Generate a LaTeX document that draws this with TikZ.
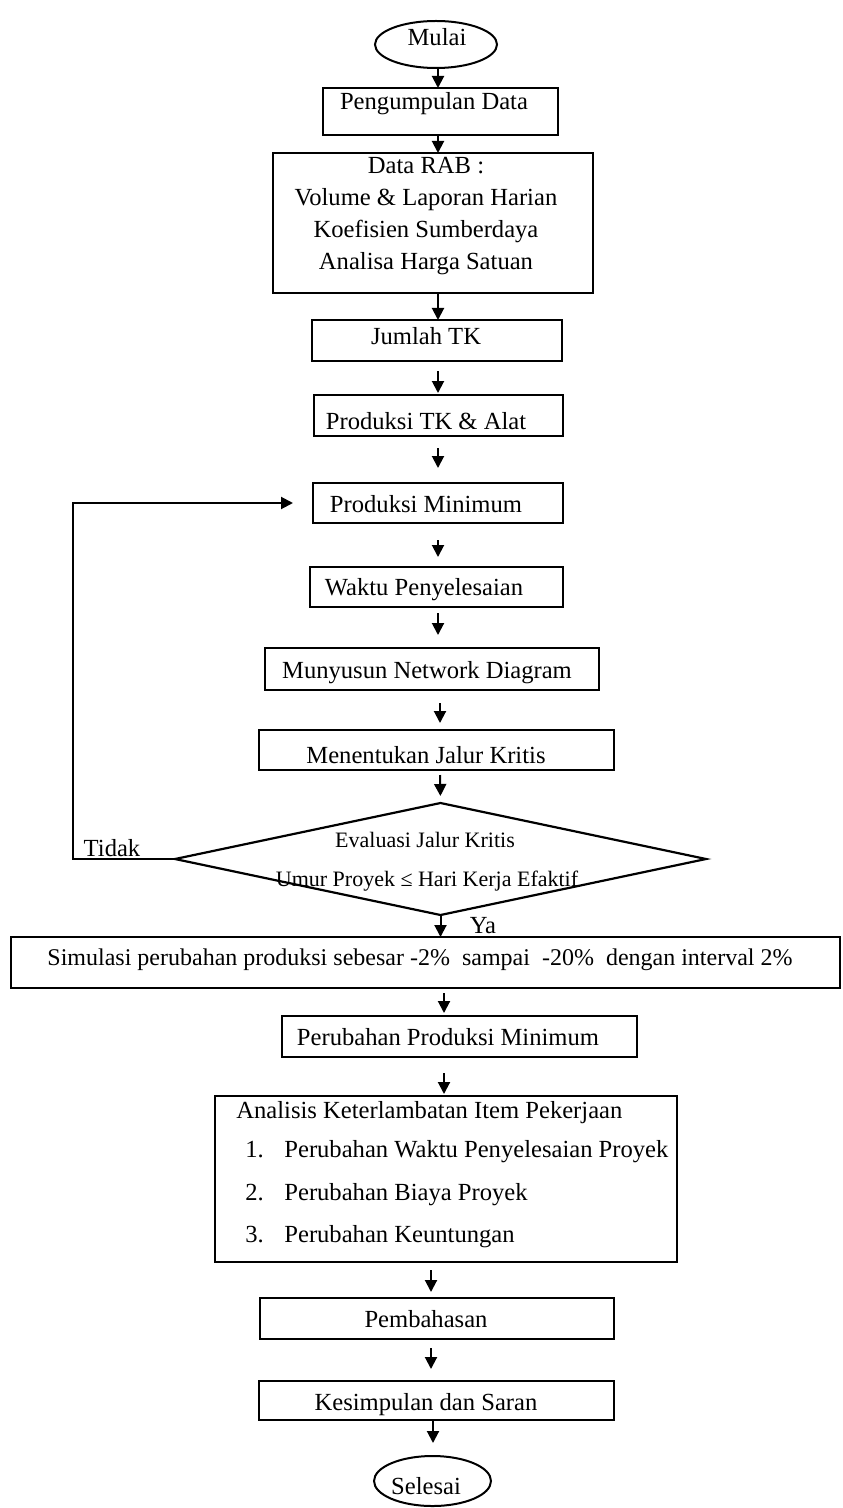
\documentclass[tikz,border=0pt]{standalone}
\usepackage{fontspec}
\setmainfont{Liberation Serif}
\usetikzlibrary{shapes.geometric,arrows.meta,calc}
\newcommand\mybox[5]{\node[box, minimum width={(#4-#2)*0.5pt}, minimum height={(#5-#3)*0.5pt}] (#1) at ({(#2+#4)/2},{(#3+#5)/2}) {};}
\begin{document}
\begin{tikzpicture}[x=0.5pt,y=-0.5pt,
  box/.style={draw, line width=1.1pt, inner sep=0pt, outer sep=0pt},
  txt/.style={anchor=base, inner sep=0pt, font=\fontsize{12.3}{14}\selectfont},
  ltxt/.style={anchor=base west, inner sep=0pt, font=\fontsize{12.3}{14}\selectfont},
  dtxt/.style={anchor=base, inner sep=0pt, font=\fontsize{11}{13}\selectfont},
  arr/.style={line width=1pt, -{Triangle[length=6pt,width=6pt]}}]
\useasboundingbox (0,0) rectangle (842,1508);
% terminals
\node[draw, ellipse, line width=1pt, inner sep=0pt, outer sep=0pt, minimum width=61pt, minimum height=23.5pt] (mulai) at (436,44.5) {};
\node[txt] (tmulai) at (437,46) {Mulai};
% boxes
\mybox{pengumpulan}{323}{88}{558}{135}
\node[txt] (tpeng) at (434,110) {Pengumpulan Data};
\mybox{datarab}{273}{153}{593}{293}
\node[txt] (trab1) at (426,174) {Data RAB :};
\node[txt] (trab2) at (426,206) {Volume \& Laporan Harian};
\node[txt] (trab3) at (426,238) {Koefisien Sumberdaya};
\node[txt] (trab4) at (426,270) {Analisa Harga Satuan};
\mybox{jumlah}{312}{320}{562}{361}
\node[txt] (tjml) at (426,344) {Jumlah TK};
\mybox{produksitk}{314}{395}{563}{436}
\node[txt] (tptk) at (426,429) {Produksi TK \& Alat};
\mybox{prodmin}{313}{483}{563}{523}
\node[txt] (tpmin) at (426,512) {Produksi Minimum};
\mybox{waktu}{310}{567}{563}{607}
\node[txt] (twaktu) at (424,595) {Waktu Penyelesaian};
\mybox{network}{265}{648}{599}{690}
\node[txt] (tnet) at (427,678) {Munyusun Network Diagram};
\mybox{jalur}{259}{730}{614}{770}
\node[txt] (tjalur) at (426,763) {Menentukan Jalur Kritis};
% decision
\node[draw, diamond, line width=1.1pt, inner sep=0pt, outer sep=0pt, minimum width=265.5pt, minimum height=56pt] (eval) at (440.5,859) {};
\node[dtxt] (teval1) at (425,847) {Evaluasi Jalur Kritis};
\node[dtxt] (teval2) at (427,886) {Umur Proyek ≤ Hari Kerja Efaktif};
\node[txt] (ttidak) at (112,856) {Tidak};
\node[txt] (tya) at (483,933) {Ya};
\mybox{simulasi}{11}{937}{840}{988}
\node[txt, font=\fontsize{12}{14}\selectfont] (tsim) at (420,965) {Simulasi perubahan produksi sebesar -2\%\ \ sampai\ \ -20\%\ \ dengan interval 2\%};
\mybox{perubahan}{282}{1016}{637}{1057}
\node[txt] (tperub) at (448,1045) {Perubahan Produksi Minimum};
\mybox{analisis}{215}{1096}{677}{1262}
\node[ltxt] (tana) at (236,1118) {Analisis Keterlambatan Item Pekerjaan};
\node[ltxt] (tn1) at (245,1157) {1.};
\node[ltxt] (ti1) at (284,1157) {Perubahan Waktu Penyelesaian Proyek};
\node[ltxt] (tn2) at (245,1200) {2.};
\node[ltxt] (ti2) at (284,1200) {Perubahan Biaya Proyek};
\node[ltxt] (tn3) at (245,1242) {3.};
\node[ltxt] (ti3) at (284,1242) {Perubahan Keuntungan};
\mybox{pembahasan}{260}{1298}{614}{1339}
\node[txt] (tpemb) at (426,1327) {Pembahasan};
\mybox{kesimpulan}{259}{1381}{614}{1420}
\node[txt] (tkes) at (426,1410) {Kesimpulan dan Saran};
\node[draw, ellipse, line width=1pt, inner sep=0pt, outer sep=0pt, minimum width=58.5pt, minimum height=25pt] (selesai) at (432.5,1481) {};
\node[txt] (tsel) at (426,1494) {Selesai};
% guide coordinates for arrow columns
\coordinate (c438) at (438,0);
\coordinate (c440) at (440,0);
\coordinate (c444) at (444,0);
\coordinate (c431) at (431,0);
\coordinate (c433) at (433,0);
\coordinate (cloop) at (73,0);
% connectors
\draw[arr] (mulai.south -| c438) -- (pengumpulan.north -| c438);
\draw[arr] (pengumpulan.south -| c438) -- (datarab.north -| c438);
\draw[arr] (datarab.south -| c438) -- (jumlah.north -| c438);
\draw[arr, shorten <=5pt, shorten >=1pt] (jumlah.south -| c438) -- (produksitk.north -| c438);
\draw[arr, shorten <=6pt, shorten >=7.5pt] (produksitk.south -| c438) -- (prodmin.north -| c438);
\draw[arr, shorten <=8.5pt, shorten >=5pt] (prodmin.south -| c438) -- (waktu.north -| c438);
\draw[arr, shorten <=3pt, shorten >=6.5pt] (waktu.south -| c438) -- (network.north -| c438);
\draw[arr, shorten <=6.5pt, shorten >=3.5pt] (network.south -| c440) -- (jalur.north -| c440);
\draw[arr, shorten <=2.5pt, shorten >=3.5pt] (jalur.south -| c440) -- (eval.north);
\draw[arr] (eval.south) -- (simulasi.north -| eval.south);
\draw[arr, shorten <=2.5pt, shorten >=1.5pt] (simulasi.south -| c444) -- (perubahan.north -| c444);
\draw[arr, shorten <=8pt, shorten >=1pt] (perubahan.south -| c444) -- (analisis.north -| c444);
\draw[arr, shorten <=4pt, shorten >=3pt] (analisis.south -| c431) -- (pembahasan.north -| c431);
\draw[arr, shorten <=4.5pt, shorten >=6pt] (pembahasan.south -| c431) -- (kesimpulan.north -| c431);
\draw[arr, shorten >=6.5pt] (kesimpulan.south -| c433) -- (selesai.north -| c433);
\draw[arr, shorten >=10pt] (eval.west) -- (eval.west -| cloop) -- (prodmin.west -| cloop) -- (prodmin.west);
\end{tikzpicture}
\end{document}
